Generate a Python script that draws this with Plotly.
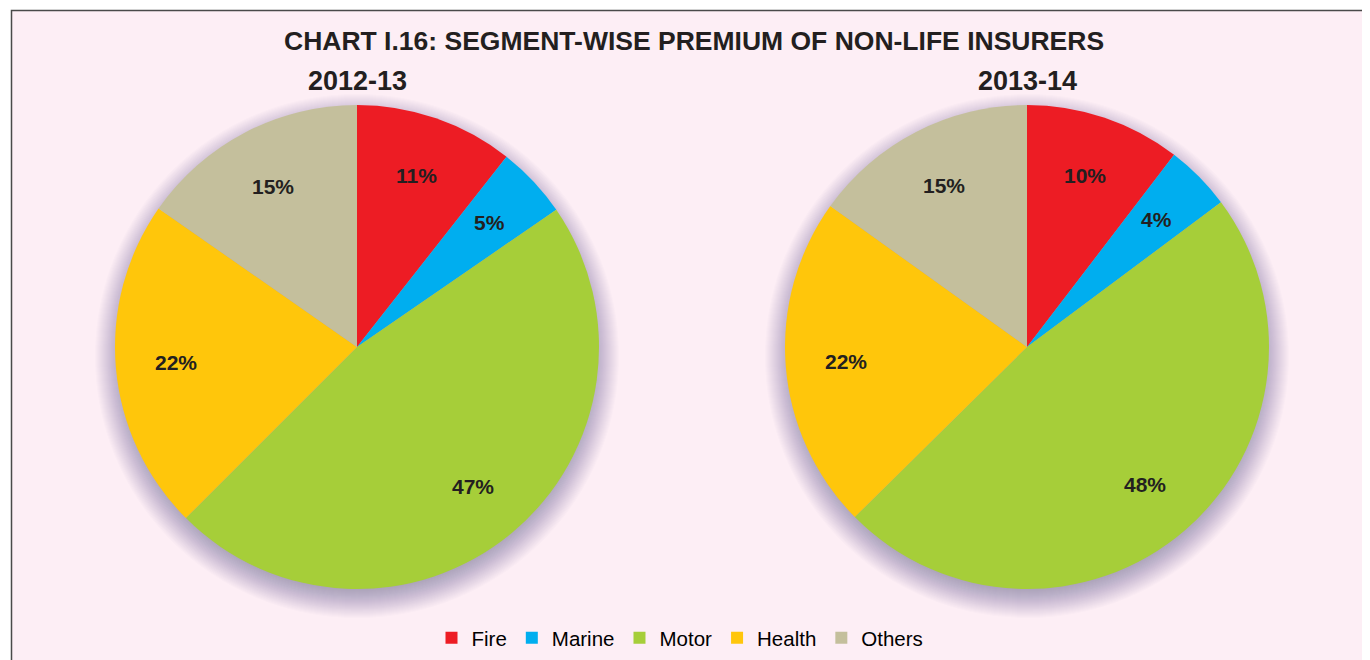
import math
import plotly.graph_objects as go

W, H = 1370, 660

segments = ["Fire", "Marine", "Motor", "Health", "Others"]
colors = ["#ED1C24", "#00AEEF", "#A6CE39", "#FFC60B", "#C4BF9C"]
share_2012_13 = [10.6, 4.8, 47.1, 22.2, 15.3]
share_2013_14 = [10.4, 4.4, 47.8, 22.3, 15.1]
years = ["2012-13", "2013-14"]
title_text = "CHART I.16: SEGMENT-WISE PREMIUM OF NON-LIFE INSURERS"

BG = "#FDEEF5"
FONT = "Liberation Sans, Arial, sans-serif"
TXT = "#231F20"

OFF = 8  # page body margin offset
centers = [(357 - OFF, 347 - OFF), (1027 - OFF, 347 - OFF)]
R = 242
LABEL_FRAC = 0.75


def px(x):
    return x / W


def py(y):
    return (H - y) / H


def dom(cx, cy, r):
    return dict(x=[px(cx - r), px(cx + r)], y=[py(cy + r), py(cy - r)])


fig = go.Figure()

# soft drop shadow made of many stacked translucent discs, shifted downward
for (cx, cy) in centers:
    for d in range(20, -11, -1):
        fig.add_trace(go.Pie(
            values=[1], labels=["shadow"], domain=dom(cx, cy + 9, R + d),
            marker=dict(colors=["rgba(95,92,100,0.017)"], line=dict(width=0)),
            textinfo="none", hoverinfo="skip", showlegend=False, sort=False,
        ))

annotations = []
for i, (vals, (cx, cy)) in enumerate(zip([share_2012_13, share_2013_14], centers)):
    fig.add_trace(go.Pie(
        labels=segments, values=vals, domain=dom(cx, cy, R),
        marker=dict(colors=colors, line=dict(width=0)),
        sort=False, direction="clockwise", rotation=0,
        textinfo="none", hoverinfo="label+percent",
        showlegend=(i == 0), name=years[i],
    ))
    total = sum(vals)
    cum = 0.0
    for v in vals:
        th = 2 * math.pi * (cum + v / 2) / total
        cum += v
        lx = cx + LABEL_FRAC * R * math.sin(th)
        ly = cy - LABEL_FRAC * R * math.cos(th)
        annotations.append(dict(
            text="<b>%d%%</b>" % round(100 * v / total), x=px(lx), y=py(ly),
            xref="paper", yref="paper", showarrow=False, xanchor="center", yanchor="middle",
            font=dict(family=FONT, size=21, color=TXT)))

annotations.append(dict(text="<b>" + title_text + "</b>", x=px(694 - OFF), y=py(41 - OFF),
                        xref="paper", yref="paper", showarrow=False, xanchor="center", yanchor="middle",
                        font=dict(family=FONT, size=26.5, color=TXT)))
for (cx, cy), yr in zip(centers, years):
    annotations.append(dict(text="<b>" + yr + "</b>", x=px(cx), y=py(81 - OFF), xref="paper", yref="paper",
                            showarrow=False, xanchor="center", yanchor="middle",
                            font=dict(family=FONT, size=27, color=TXT)))

fig.update_layout(
    width=W, height=H,
    margin=dict(l=0, r=0, t=0, b=0),
    paper_bgcolor="white", plot_bgcolor=BG,
    shapes=[dict(type="rect", xref="paper", yref="paper", x0=px(11.5 - OFF), x1=1.05, y0=-0.05,
                 y1=py(10.5 - OFF), fillcolor=BG, line=dict(color="#4A4A4A", width=1.5), layer="below")],
    annotations=annotations,
    legend=dict(orientation="h", x=px(680 - OFF), xanchor="center", y=py(638 - OFF), yanchor="middle",
                font=dict(family=FONT, size=20.5, color="black"), bgcolor="rgba(0,0,0,0)",
                traceorder="normal"),
)

fig.write_html("out.html")
